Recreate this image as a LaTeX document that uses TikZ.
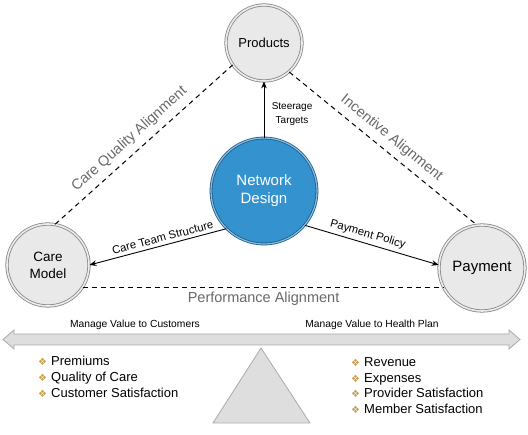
\documentclass[tikz,border=0pt]{standalone}
\usepackage{fontspec}
\setmainfont{Liberation Sans}
\newfontfamily\dejavu{DejaVu Sans}
\usetikzlibrary{arrows.meta}
\definecolor{ballfill}{RGB}{233,233,233}
\definecolor{ballring}{RGB}{135,135,135}
\definecolor{ndblue}{RGB}{52,146,206}
\definecolor{ndring}{RGB}{30,90,135}
\definecolor{lbgray}{RGB}{105,105,105}
\definecolor{barfill}{RGB}{222,222,222}
\definecolor{barline}{RGB}{170,170,170}
\definecolor{bulgold}{RGB}{200,158,78}
\newcommand{\mybul}{\makebox[13pt][l]{\dejavu\fontsize{10}{12}\selectfont\textcolor{bulgold}{❖}}}
\begin{document}
\begin{tikzpicture}[x=1pt,y=-1pt,
  ball/.style={circle, fill=ballfill, draw=ballring, line width=0.8pt, double=white!85!gray, double distance=1.6pt, inner sep=0pt, align=center},
  hub/.style={circle, fill=ndblue, draw=ndring, line width=0.8pt, double=ndblue!60!white, double distance=1.2pt, inner sep=0pt, align=center, text=white},
  conn/.style={-{Stealth[length=7pt,width=5.5pt]}, line width=0.9pt},
  alignline/.style={dash pattern=on 5pt off 4pt, line width=1pt},
  alignlbl/.style={text=lbgray, font=\fontsize{14.5}{17}\selectfont},
  small/.style={font=\fontsize{10}{14}\selectfont},
  connlbl/.style={font=\fontsize{11.3}{14}\selectfont},
  listitem/.style={anchor=base west, inner sep=0pt, font=\fontsize{13}{16}\selectfont}
]
\fill[white] (0,0) rectangle (528,435);
\useasboundingbox (0,0) rectangle (528,435);

% balance: triangle and double arrow
\draw[fill=barfill, draw=barline, line width=0.8pt, line join=round] (261,348) -- (310,423) -- (213,423) -- cycle;
\draw[fill=barfill, draw=barline, line width=0.8pt, line join=miter]
  (3,339.5) -- (14,330) -- (14,334) -- (509,334) -- (509,330) -- (520,339.5)
  -- (509,349) -- (509,345) -- (14,345) -- (14,349) -- cycle;

% circles
\node[ball, minimum size=76pt, font=\fontsize{13}{16}\selectfont] (prod) at (264,43) {Products};
\node[hub, minimum size=106pt, font=\fontsize{15}{18}\selectfont] (nd) at (264,191) {Network\\Design};
\node[ball, minimum size=82pt, font=\fontsize{13.5}{17}\selectfont] (cm) at (48,265) {Care\\Model};
\node[ball, minimum size=86pt, font=\fontsize{15}{18}\selectfont] (pay) at (482,268) {Payment};

% alignment (dashed) lines
\draw[alignline] (cm.80) -- node[sloped, above=3pt, pos=0.47, alignlbl] {Care Quality Alignment} (prod.215);
\draw[alignline] (prod.-49) -- node[sloped, above=3pt, pos=0.5, alignlbl] {Incentive Alignment} (pay.97);
\draw[alignline] (cm.-33) -- node[below, inner sep=4pt, alignlbl, pos=0.5] {Performance Alignment} (cm.-33 -| pay.-150);

% connectors from Network Design
\draw[conn] (nd.north) -- node[right=4pt, pos=0.42, small, align=center] {Steerage\\Targets} (prod.south);
\draw[conn] (nd.225) -- node[sloped, above=0pt, pos=0.45, connlbl] {Care Team Structure} (cm.0);
\draw[conn] (nd.-40) -- node[sloped, above=0pt, pos=0.45, connlbl] {Payment Policy} (pay.176);

% scale labels
\node[font=\fontsize{10.3}{12}\selectfont] (mc) at (135,325) {Manage Value to Customers};
\node[font=\fontsize{10.3}{12}\selectfont] (mh) at (372,325) {Manage Value to Health Plan};

% lists
\node[listitem] (l1) at (38,366) {\mybul Premiums};
\node[listitem] (l2) at (38,382) {\mybul Quality of Care};
\node[listitem] (l3) at (38,398) {\mybul Customer Satisfaction};
\node[listitem] (r1) at (351,366.5) {\mybul Revenue};
\node[listitem] (r2) at (351,382.3) {\mybul Expenses};
\node[listitem] (r3) at (351,398) {\mybul Provider Satisfaction};
\node[listitem] (r4) at (351,413.7) {\mybul Member Satisfaction};
\end{tikzpicture}
\end{document}
